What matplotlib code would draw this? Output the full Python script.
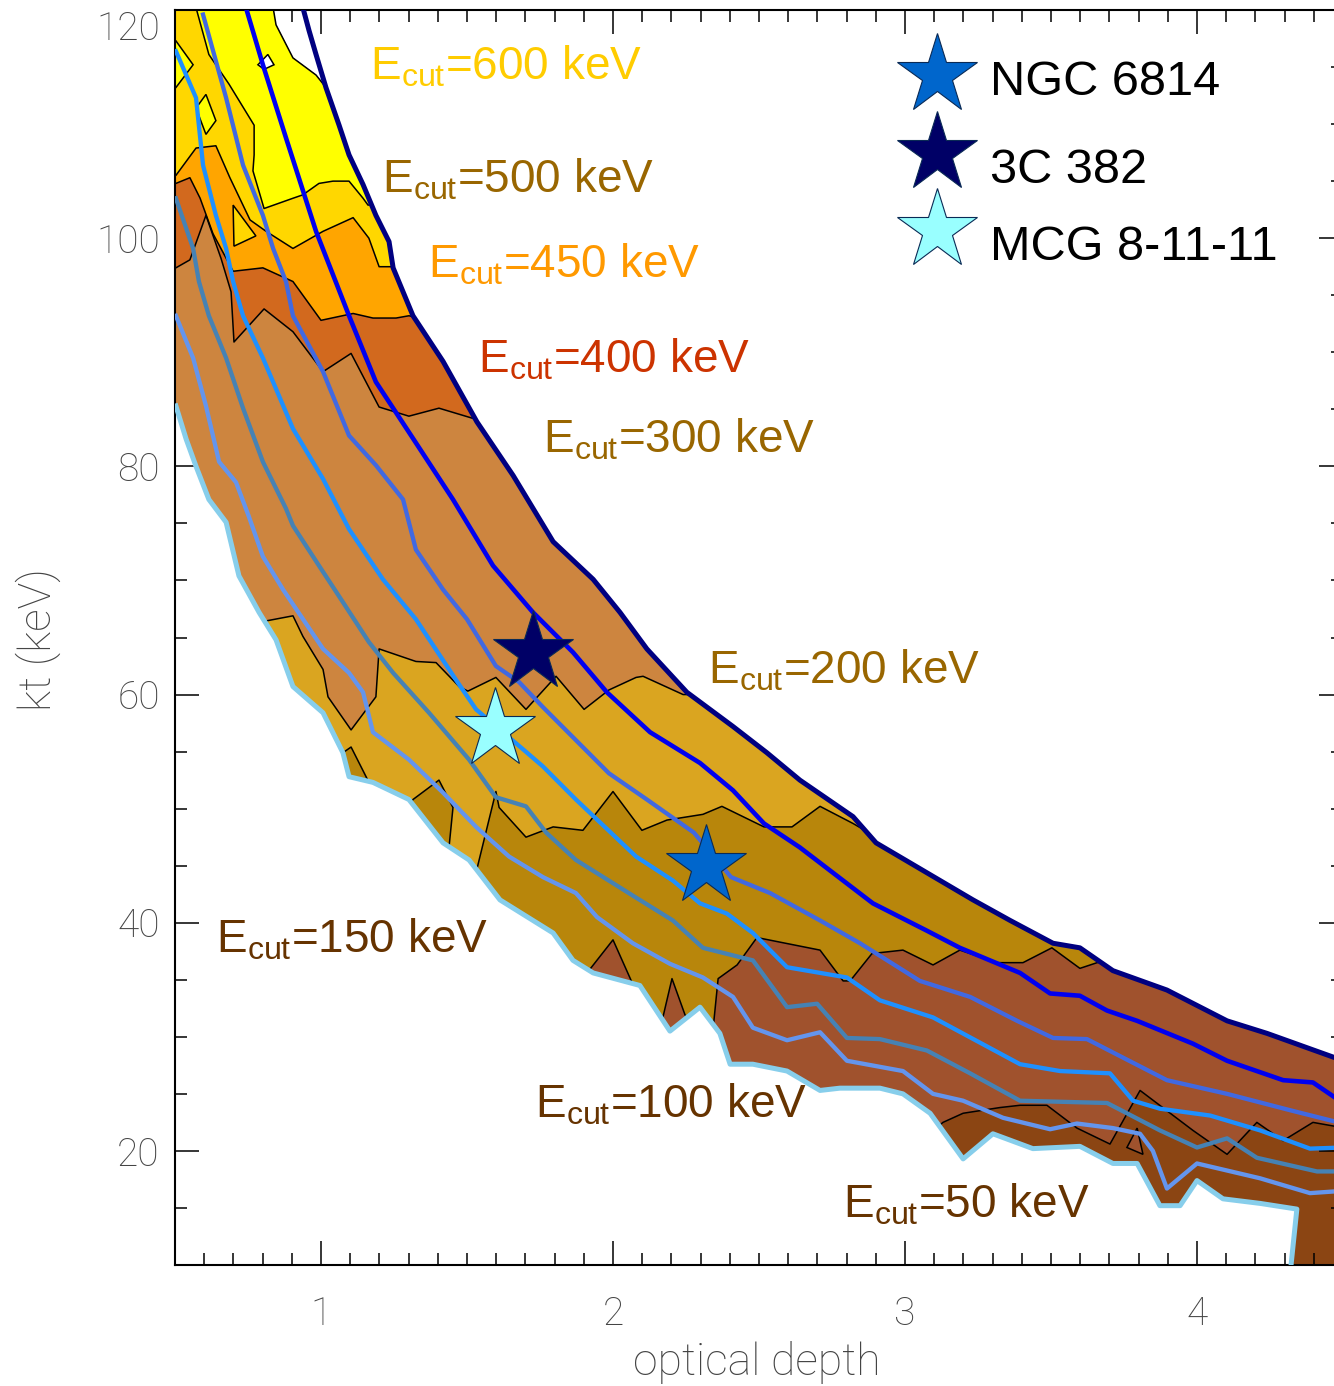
import matplotlib
matplotlib.use('Agg')
import matplotlib.pyplot as plt
from matplotlib.ticker import MultipleLocator

plt.rcParams['font.family'] = ['Roboto', 'DejaVu Sans']
plt.rcParams['mathtext.default'] = 'regular'

# ---------------- data: (optical depth, kT [keV]) ----------------
# upper edge of the grid (Gamma = 1.5 contour)
navy_tau = [0.938, 0.959, 0.983, 1.017, 1.062, 1.096, 1.144, 1.188, 1.233, 1.247, 1.315, 1.418,
            1.534, 1.658, 1.795, 1.932, 2.024, 2.116, 2.253, 2.411, 2.527, 2.640, 2.822, 2.901,
            3.233, 3.360, 3.507, 3.599, 3.712, 3.897, 4.103, 4.240, 4.469, 4.50]
navy_kt = [120.2, 118.2, 116.1, 113.2, 109.9, 107.3, 104.7, 102.0, 99.7, 97.4, 93.2, 89.2,
           83.9, 79.2, 73.4, 70.1, 67.2, 64.0, 60.2, 57.2, 54.9, 52.5, 49.3, 47.0,
           42.0, 40.2, 38.2, 37.8, 35.8, 34.1, 31.4, 30.3, 28.2, 28.0]
# top of the filled grid where it leaves the Gamma = 1.5 line
edge_tau = [0.836, 0.846, 0.904, 0.983, 1.017]
edge_kt = [120.2, 118.7, 115.8, 114.3, 113.2]

# lower edge of the grid (Gamma = 2.1 contour)
low_tau = [0.503, 0.538, 0.572, 0.616, 0.675, 0.719, 0.788, 0.846, 0.904, 1.007, 1.075, 1.096,
           1.178, 1.301, 1.418, 1.507, 1.613, 1.795, 1.863, 1.932, 2.092, 2.195, 2.298, 2.366,
           2.401, 2.479, 2.596, 2.709, 2.777, 2.914, 2.993, 3.086, 3.199, 3.301, 3.438, 3.599,
           3.712, 3.795, 3.873, 3.942, 4.000, 4.089, 4.216, 4.342, 4.318]
low_kt = [85.3, 82.4, 80.0, 77.1, 75.1, 70.4, 67.2, 64.8, 60.7, 58.4, 54.9, 52.8,
          52.3, 50.8, 47.0, 45.5, 42.0, 39.1, 36.7, 35.6, 34.5, 30.5, 32.6, 30.3,
          27.6, 27.6, 27.0, 25.3, 25.5, 25.5, 25.0, 23.3, 19.3, 21.5, 20.2, 20.4,
          18.9, 18.9, 15.2, 15.2, 17.4, 15.8, 15.4, 14.9, 9.0]

# photon index contours
g16_tau = [0.743, 0.801, 0.880, 0.983, 1.096, 1.188, 1.301, 1.452, 1.589, 1.726, 1.863, 1.979,
           2.127, 2.298, 2.411, 2.517, 2.640, 2.890, 3.075, 3.188, 3.394, 3.497, 3.599, 3.692,
           3.795, 3.986, 4.103, 4.295, 4.397, 4.50]
g16_kt = [120.2, 115.2, 108.8, 100.6, 93.2, 87.4, 83.0, 77.1, 71.3, 67.2, 63.7, 60.2,
          56.7, 54.0, 51.6, 48.7, 46.6, 41.7, 39.3, 37.8, 35.6, 33.8, 33.6, 32.3,
          31.4, 29.4, 27.9, 26.2, 26.0, 24.2]
g17_tau = [0.596, 0.675, 0.733, 0.801, 0.836, 0.880, 0.904, 1.007, 1.096, 1.188, 1.281, 1.325,
           1.418, 1.500, 1.599, 1.678, 1.760, 1.873, 1.986, 2.116, 2.277, 2.404, 2.538, 2.709,
           2.846, 3.051, 3.223, 3.384, 3.507, 3.623, 3.897, 4.103, 4.329, 4.50]
g17_kt = [119.6, 112.3, 106.4, 102.0, 99.1, 96.2, 93.2, 88.3, 82.7, 80.1, 77.1, 72.7,
          69.2, 66.6, 62.5, 61.1, 58.9, 56.0, 53.1, 50.8, 47.9, 44.0, 42.6, 40.2,
          38.2, 34.9, 33.5, 31.4, 29.9, 29.8, 26.2, 25.0, 23.5, 22.4]
g18_tau = [0.503, 0.572, 0.596, 0.640, 0.675, 0.699, 0.733, 0.801, 0.904, 1.007, 1.096, 1.212,
           1.325, 1.462, 1.531, 1.692, 1.760, 1.873, 2.079, 2.205, 2.298, 2.390, 2.479, 2.596,
           2.801, 2.914, 3.096, 3.394, 3.531, 3.702, 3.781, 3.873, 4.045, 4.216, 4.387, 4.50]
g18_kt = [116.4, 112.3, 106.4, 102.0, 99.1, 96.2, 93.2, 89.5, 83.3, 78.9, 74.5, 70.1,
          66.6, 61.3, 58.7, 55.2, 53.7, 50.8, 45.8, 43.7, 41.7, 40.8, 39.1, 36.1,
          35.2, 33.2, 31.7, 27.6, 27.0, 26.8, 24.4, 23.7, 23.1, 21.8, 20.2, 20.3]
g19_tau = [0.503, 0.562, 0.582, 0.616, 0.675, 0.733, 0.801, 0.880, 0.904, 0.993, 1.075, 1.164,
           1.247, 1.370, 1.507, 1.599, 1.702, 1.771, 1.873, 2.079, 2.205, 2.308, 2.479, 2.596,
           2.699, 2.801, 2.914, 3.075, 3.223, 3.394, 3.692, 3.873, 4.000, 4.103, 4.205, 4.411, 4.50]
g19_kt = [103.5, 99.1, 96.2, 93.2, 89.5, 85.1, 80.4, 76.3, 74.8, 71.3, 68.1, 64.6,
          61.9, 58.4, 54.3, 51.0, 50.2, 47.9, 45.5, 42.2, 40.2, 37.8, 36.7, 32.6,
          32.9, 29.9, 29.8, 28.8, 26.8, 24.4, 24.2, 21.8, 20.3, 21.1, 19.4, 18.2, 18.2]
g20_tau = [0.503, 0.562, 0.606, 0.651, 0.709, 0.753, 0.801, 0.870, 1.007, 1.096, 1.144, 1.178,
           1.301, 1.418, 1.531, 1.644, 1.760, 1.873, 1.945, 2.068, 2.195, 2.308, 2.411, 2.479,
           2.596, 2.709, 2.801, 2.993, 3.096, 3.199, 3.336, 3.497, 3.589, 3.712, 3.805, 3.849,
           3.897, 4.000, 4.216, 4.387, 4.50]
g20_kt = [93.2, 89.5, 85.3, 80.4, 78.6, 75.6, 72.1, 69.2, 64.0, 61.9, 60.2, 56.7,
          54.3, 51.4, 48.4, 45.8, 44.0, 42.6, 40.5, 38.2, 36.4, 35.2, 33.5, 30.8,
          29.7, 30.4, 27.9, 27.0, 25.0, 24.4, 22.9, 21.9, 22.4, 22.0, 21.5, 20.0,
          16.7, 18.9, 17.6, 16.3, 16.5]

# E_cut band boundaries (the band named is the one above / right of the line)
b100_tau = [3.103, 3.130, 3.199, 3.325, 3.394, 3.486, 3.589, 3.702, 3.805, 3.986, 4.103, 4.205, 4.295, 4.397, 4.507]
b100_kt = [21.9, 22.5, 23.3, 23.8, 24.0, 24.0, 22.0, 20.6, 25.3, 21.8, 19.7, 22.5, 20.9, 22.5, 22.0]
b150_tau = [1.870, 1.911, 2.000, 2.068, 2.110, 2.168, 2.202, 2.247, 2.342, 2.360, 2.425, 2.493, 2.709,
            2.788, 2.812, 2.887, 2.993, 3.096, 3.188, 3.315, 3.404, 3.503, 3.599, 3.658, 3.719]
b150_kt = [35.4, 35.6, 38.5, 34.6, 33.4, 31.4, 35.1, 31.9, 30.5, 35.1, 36.3, 38.7, 37.6,
           34.9, 34.9, 37.3, 37.6, 36.3, 37.6, 36.5, 36.5, 37.8, 36.0, 36.5, 36.7]
b200_tau = [1.048, 1.075, 1.103, 1.178, 1.301, 1.315, 1.404, 1.452, 1.438, 1.531, 1.599, 1.610, 1.702,
            1.795, 1.897, 2.000, 2.099, 2.185, 2.308, 2.373, 2.517, 2.613, 2.709, 2.822, 2.949]
b200_kt = [54.7, 54.9, 55.4, 51.6, 50.2, 50.8, 52.5, 50.1, 46.5, 44.4, 51.5, 50.1, 47.5,
           48.4, 48.1, 51.5, 48.1, 49.0, 49.5, 50.2, 48.4, 48.4, 50.2, 48.7, 46.8]
b300_tau = [0.774, 0.801, 0.904, 0.938, 1.007, 1.024, 1.103, 1.188, 1.199, 1.325, 1.394, 1.473, 1.503,
            1.599, 1.702, 1.805, 1.901, 1.986, 2.079, 2.103, 2.240, 2.350]
b300_kt = [66.4, 66.4, 66.9, 65.1, 62.2, 59.8, 56.9, 59.8, 64.0, 62.9, 62.8, 60.7, 60.3,
           61.5, 58.7, 61.6, 58.7, 60.4, 61.5, 61.6, 60.0, 60.0]
b400_tau = [0.45, 0.503, 0.551, 0.606, 0.658, 0.692, 0.702, 0.805, 0.904, 1.007, 1.103, 1.199, 1.301,
            1.404, 1.521, 1.579]
b400_kt = [97.4, 97.4, 98.1, 102.0, 98.2, 95.3, 90.9, 93.8, 91.8, 88.3, 89.9, 85.2, 84.4,
           85.1, 84.2, 83.9]
b450_tau = [0.45, 0.503, 0.551, 0.586, 0.630, 0.699, 0.801, 0.904, 1.000, 1.110, 1.178, 1.257, 1.301, 1.40]
b450_kt = [104.8, 104.8, 105.3, 103.5, 100.4, 97.1, 97.4, 96.2, 92.8, 93.4, 93.0, 93.0, 93.2, 92.7]
b500_tau = [0.45, 0.503, 0.572, 0.640, 0.688, 0.757, 0.812, 0.904, 1.007, 1.110, 1.164, 1.199, 1.271]
b500_kt = [105.5, 105.5, 107.9, 108.1, 105.3, 101.6, 100.6, 99.1, 100.6, 101.8, 100.0, 97.5, 97.5]
b600_tau = [0.572, 0.572, 0.616, 0.685, 0.771, 0.771, 0.767, 0.805, 0.904, 0.938, 0.993, 1.041, 1.096,
            1.144, 1.161, 1.219]
b600_kt = [125.0, 120.2, 116.1, 113.5, 109.9, 107.3, 105.9, 102.6, 103.5, 103.8, 104.8, 105.0, 105.0,
           103.5, 102.9, 103.1]

# small islands of the contour map
isl_yellow1_tau = [0.49, 0.503, 0.562, 0.503, 0.49]
isl_yellow1_kt = [117.3, 117.3, 115.2, 113.2, 113.2]
isl_yellow2_tau = [0.572, 0.606, 0.640, 0.606]
isl_yellow2_kt = [111.4, 112.6, 110.3, 109.1]
isl_hole_tau = [0.784, 0.818, 0.839, 0.805]
isl_hole_kt = [115.2, 116.1, 115.2, 114.8]
isl_gold_tau = [0.699, 0.777, 0.702]
isl_gold_kt = [102.9, 100.2, 99.3]
isl_sienna_tau = [3.760, 3.795, 3.815]
isl_sienna_kt = [20.3, 22.0, 19.7]

# sources
src_names = ['NGC 6814', '3C 382', 'MCG 8-11-11']
src_tau = [2.318, 1.726, 1.596]
src_kt = [45.0, 63.7, 57.0]
src_colors = ['#0066CC', '#000066', '#99FFFF']

band_labels = ['600', '500', '450', '400', '300', '200', '150', '100', '50']

x_ticks = [1, 2, 3, 4]
y_ticks = [20, 40, 60, 80, 100, 120]

# ---------------- figure ----------------
fig = plt.figure(figsize=(13.34, 13.86), dpi=100)
ax = fig.add_axes([175 / 1334, 121 / 1386, 1168 / 1334, 1255 / 1386])
ax.set_xlim(0.5, 4.5)
ax.set_ylim(10, 120)

# the grid domain, used as clip path for the colour bands
up_tau = [0.45, 0.836] + edge_tau[:-1] + [t for t in navy_tau if t >= edge_tau[-1]] + [4.6]
up_kt = [125, 125] + edge_kt[:-1] + [k for t, k in zip(navy_tau, navy_kt) if t >= edge_tau[-1]] + [27.3]
reg_tau = up_tau + [4.6, low_tau[-1]] + low_tau[::-1] + [0.45]
reg_kt = up_kt + [5, 5] + low_kt[::-1] + [86]
region = ax.fill(reg_tau, reg_kt, color='#8B4513', lw=0, zorder=1)[0]

bands = [
    (b100_tau, b100_kt, '#A0522D'),
    (b150_tau, b150_kt, '#B8860B'),
    (b200_tau, b200_kt, '#DAA520'),
    (b300_tau, b300_kt, '#CD853F'),
    (b400_tau, b400_kt, '#D2691E'),
    (b450_tau, b450_kt, '#FFA500'),
    (b500_tau, b500_kt, '#FFD700'),
    (b600_tau, b600_kt, '#FFFF00'),
]
for bt, bk, col in bands:
    px = [0.4] + bt + [5.0, 0.4]
    py = [bk[0]] + bk + [130, 130]
    p = ax.fill(px, py, color=col, lw=0, zorder=2)[0]
    p.set_clip_path(region)

islands = [
    (isl_yellow1_tau, isl_yellow1_kt, '#FFFF00'),
    (isl_yellow2_tau, isl_yellow2_kt, '#FFFF00'),
    (isl_gold_tau, isl_gold_kt, '#FFD700'),
    (isl_sienna_tau, isl_sienna_kt, '#A0522D'),
    (isl_hole_tau, isl_hole_kt, 'white'),
]
for it, ik, col in islands:
    p = ax.fill(it, ik, facecolor=col, edgecolor='black', lw=1.1, zorder=2.5)[0]
    p.set_clip_path(region)

for bt, bk, col in bands:
    ln, = ax.plot(bt, bk, color='black', lw=1.1, zorder=3)
    ln.set_clip_path(region)
ax.plot(edge_tau, edge_kt, color='black', lw=1.1, zorder=3)

# photon index contours
gammas = [
    (g16_tau, g16_kt, '#0000F0', 3.3),
    (g17_tau, g17_kt, '#4169E1', 3.1),
    (g18_tau, g18_kt, '#1E90FF', 3.1),
    (g19_tau, g19_kt, '#4682B4', 3.1),
    (g20_tau, g20_kt, '#6495ED', 3.1),
]
for gt, gk, col, lw in gammas:
    ax.plot(gt, gk, color=col, lw=lw, zorder=4)
ax.plot(low_tau, low_kt, color='#87CEEB', lw=3.6, zorder=4.5)
ax.plot(navy_tau, navy_kt, color='#000080', lw=3.6, zorder=4.5)

# sources
for t, k, c in zip(src_tau, src_kt, src_colors):
    ax.plot(t, k, marker='*', ms=60, mfc=c, mec='#0A2A55', mew=0.8, ls='none', zorder=6)

# E_cut labels
lab_pos = [(0.167, 0.9446), (0.1772, 0.8542), (0.2166, 0.7865), (0.2594, 0.7108), (0.3151, 0.6478),
           (0.4563, 0.4637), (0.0351, 0.2494), (0.3082, 0.1179), (0.5719, 0.0375)]
lab_col = ['#FFCC00', '#996600', '#FF9900', '#CC3300', '#996600', '#996600', '#663300', '#663300', '#663300']
for lab, (x, y), c in zip(band_labels, lab_pos, lab_col):
    ax.text(x, y, r'$\mathregular{E_{cut}}$=' + lab + ' keV', transform=ax.transAxes,
            fontsize=33, color=c, family='Liberation Sans', ha='left', va='baseline', zorder=7)

# legend
leg_star_y = [0.948, 0.8864, 0.825]
leg_text_y = [0.9323, 0.8622, 0.8008]
for name, c, sy, ty in zip(src_names, src_colors, leg_star_y, leg_text_y):
    ax.plot(0.6524, sy, marker='*', ms=60, mfc=c, mec='#0A2A55', mew=0.8, ls='none',
            transform=ax.transAxes, clip_on=False, zorder=7)
    ax.text(0.6978, ty, name, transform=ax.transAxes, fontsize=35, color='black',
            family='Liberation Sans', ha='left', va='baseline', zorder=7)

# axes styling
ax.set_xticks(x_ticks)
ax.set_yticks(y_ticks)
ax.xaxis.set_minor_locator(MultipleLocator(0.1))
ax.yaxis.set_minor_locator(MultipleLocator(5))
ax.tick_params(which='both', direction='in', top=True, right=True, width=1.1, colors='black',
               labelcolor='#444444', labelsize=28)
ax.tick_params(which='major', length=17)
ax.tick_params(which='minor', length=8.5)
ax.tick_params(axis='x', pad=22)
ax.tick_params(axis='y', pad=11)
for lab in ax.get_xticklabels() + ax.get_yticklabels():
    lab.set_fontweight('light')
ax.get_yticklabels()[-1].set_verticalalignment('top')
for s in ax.spines.values():
    s.set_linewidth(1.5)

fig.text(757 / 1334, 1 - 1362 / 1386, 'optical depth', fontsize=32, color='#444444',
         fontweight='light', ha='center', va='center')
fig.text(38 / 1334, 1 - 640 / 1386, 'kt (keV)', fontsize=32, color='#444444',
         fontweight='light', ha='center', va='center', rotation=90)

fig.savefig('out.png', dpi=100)
